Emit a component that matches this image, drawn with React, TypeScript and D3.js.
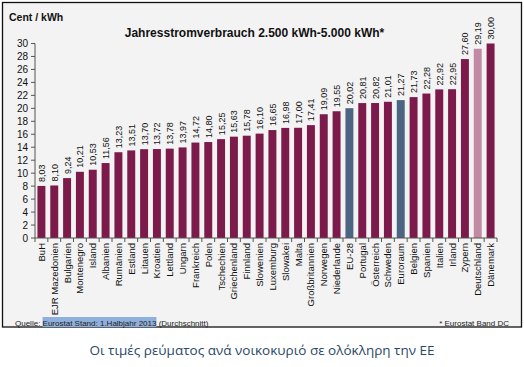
import { useLayoutEffect, useMemo, useRef, useState } from "react";
import * as d3 from "d3";

const countries = [
  "BuH", "EJR Mazedonien", "Bulgarien", "Montenegro", "Island", "Albanien",
  "Rumänien", "Estland", "Litauen", "Kroatien", "Lettland", "Ungarn",
  "Frankreich", "Polen", "Tschechien", "Griechenland", "Finnland", "Slowenien",
  "Luxemburg", "Slowakei", "Malta", "Großbritannien", "Norwegen", "Niederlande",
  "EU-28", "Portugal", "Österreich", "Schweden", "Euroraum", "Belgien",
  "Spanien", "Italien", "Irland", "Zypern", "Deutschland", "Dänemark",
];

const prices = [
  8.03, 8.1, 9.24, 10.21, 10.53, 11.56, 13.23, 13.51, 13.7, 13.72, 13.78, 13.97,
  14.72, 14.8, 15.25, 15.63, 15.78, 16.1, 16.65, 16.98, 17.0, 17.41, 19.09, 19.55,
  20.02, 20.81, 20.82, 21.01, 21.27, 21.73, 22.28, 22.92, 22.95, 27.6, 29.19, 30.0,
];

const yTicks = [0, 2, 4, 6, 8, 10, 12, 14, 16, 18, 20, 22, 24, 26, 28, 30];

const euBars = ["EU-28", "Euroraum"];
const highlightBar = "Deutschland";

const W = 524;
const H = 367;
const MARGIN = { top: 43.5, left: 35, right: 27, bottom: 129 };

const fmt = (v: number) => v.toFixed(2).replace(".", ",");

export default function App() {
  const boundsW = W - MARGIN.left - MARGIN.right;
  const boundsH = H - MARGIN.top - MARGIN.bottom;

  const xScale = useMemo(
    () => d3.scaleBand().domain(countries).range([0, boundsW]).paddingInner(0.38).paddingOuter(0.19),
    [boundsW]
  );
  const yScale = useMemo(() => d3.scaleLinear().domain([0, 30]).range([boundsH, 0]), [boundsH]);

  const colorOf = (c: string) =>
    euBars.includes(c) ? "#4c6582" : c === highlightBar ? "#c28aa5" : "#7c1a4b";

  // measure the highlighted part of the source note
  const hlRef = useRef<SVGTSpanElement>(null);
  const [hl, setHl] = useState<{ x: number; w: number } | null>(null);
  useLayoutEffect(() => {
    const el = hlRef.current;
    if (!el) return;
    const parent = el.parentNode as SVGTextElement;
    const start = parent.getStartPositionOfChar(8);
    const w = el.getComputedTextLength();
    setHl({ x: start.x, w });
  }, []);

  const step = xScale.step();

  return (
    <svg
      width={W}
      height={H}
      style={{ position: "absolute", left: 0, top: 0, fontFamily: "'Liberation Sans', Arial, sans-serif" }}
    >
      <rect x={0} y={0} width={W} height={H} fill="#fff" />
      <rect x={2.5} y={2.5} width={519} height={324.5} fill="#f3f3f3" stroke="#111" strokeWidth={1.3} />

      <text x={9} y={20.5} fontSize={10.5} fontWeight="bold" fill="#111">Cent / kWh</text>
      <text x={254.5} y={36.5} fontSize={12} fontWeight="bold" textAnchor="middle" fill="#111">
        Jahresstromverbrauch 2.500 kWh-5.000 kWh*
      </text>

      <g transform={`translate(${MARGIN.left},${MARGIN.top})`}>
        {/* y axis */}
        <line x1={0} x2={0} y1={0} y2={boundsH} stroke="#555" />
        {yTicks.map((t) => (
          <g key={t} transform={`translate(0,${yScale(t)})`}>
            <line x1={-4} x2={0} stroke="#555" />
            <text x={-7} dy="0.35em" fontSize={10} textAnchor="end" fill="#111">{t}</text>
          </g>
        ))}

        {/* bars */}
        {countries.map((c, i) => {
          const x = xScale(c)!;
          const y = yScale(prices[i]);
          const cx = x + xScale.bandwidth() / 2;
          return (
            <g key={c}>
              <rect x={x} y={y} width={xScale.bandwidth()} height={boundsH - y} fill={colorOf(c)} />
              <text
                transform={`translate(${cx + 3.5},${y - 4}) rotate(-90)`}
                fontSize={9}
                fill="#111"
              >
                {fmt(prices[i])}
              </text>
              <text
                transform={`translate(${cx + 3.5},${boundsH + 5}) rotate(-90)`}
                fontSize={9.5}
                textAnchor="end"
                fill="#111"
              >
                {c}
              </text>
            </g>
          );
        })}

        {/* x axis */}
        <line x1={0} x2={boundsW} y1={boundsH} y2={boundsH} stroke="#555" />
        {d3.range(countries.length + 1).map((i) => (
          <line
            key={i}
            x1={i * step}
            x2={i * step}
            y1={boundsH}
            y2={boundsH + 4}
            stroke="#555"
          />
        ))}
      </g>

      {hl && <rect x={hl.x} y={317} width={hl.w} height={10} fill="#8fb0dc" />}
      <text x={15} y={325.5} fontSize={8} fill="#222">
        {"Quelle: "}
        <tspan ref={hlRef}>Eurostat Stand: 1.Halbjahr 2013</tspan>
        {" (Durchschnitt)"}
      </text>
      <text x={509} y={325.5} fontSize={8} textAnchor="end" fill="#222">* Eurostat Band DC</text>

      <text
        x={262}
        y={355}
        fontSize={13.5}
        textAnchor="middle"
        fill="#2a4868"
        fontFamily="'Open Sans', 'Noto Sans', sans-serif"
      >
        Οι τιμές ρεύματος ανά νοικοκυριό σε ολόκληρη την ΕΕ
      </text>
    </svg>
  );
}
